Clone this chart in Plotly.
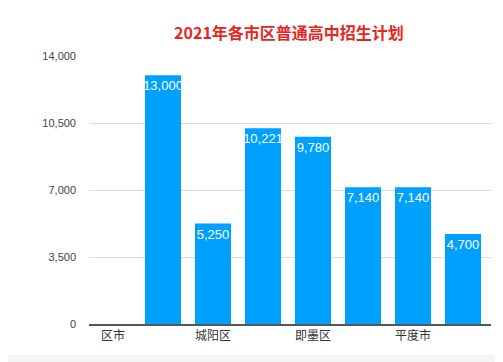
import plotly.graph_objects as go

categories = ["区市", "西海岸新区", "城阳区", "市内三区", "即墨区", "胶州市", "平度市", "莱西市"]
values = [None, 13000, 5250, 10221, 9780, 7140, 7140, 4700]
shown_labels = ["区市", "城阳区", "即墨区", "平度市"]
y_ticks = [0, 3500, 7000, 10500, 14000]
title = "2021年各市区普通高中招生计划"

# page body has an 8px default margin, so the figure is offset by 8px
OFF = 8
W, H = 503 - OFF, 362 - OFF
L, T = 89 - OFF, 56 - OFF
R = W - (491 - OFF)
B = H - (324 - OFF)
pw, ph = W - L - R, H - T - B

fig = go.Figure(go.Bar(
    x=categories, y=values,
    marker=dict(color="#00A0FF", line=dict(width=0)),
    text=[f"{v:,}" if v is not None else "" for v in values],
    textposition="inside", insidetextanchor="end", textangle=0,
    textfont=dict(color="white", size=13, family="Liberation Sans, Arial"),
    constraintext="none", cliponaxis=False,
))

fig.update_layout(
    width=W, height=H,
    margin=dict(l=L, r=R, t=T, b=B),
    paper_bgcolor="#f4f4f4", plot_bgcolor="white",
    bargap=0.28,
    showlegend=False,
    title=dict(text=title, x=(289 - 89) / pw, xref="paper", xanchor="center",
               y=1 - (33 - OFF) / H, yanchor="middle",
               font=dict(color="#e8251c", size=16, family="Noto Sans CJK SC", weight="bold")),
    shapes=[dict(type="rect", xref="paper", yref="paper", layer="below",
                 x0=-L / pw - 0.05, x1=(498 - 89) / pw, y0=(324 - 355) / ph, y1=324 / ph + 0.5,
                 fillcolor="white", line=dict(width=0))],
    font=dict(family="Liberation Sans, Arial", color="#444"),
)
fig.update_xaxes(
    range=[-0.48, 7.56], tickmode="array", tickvals=shown_labels, ticktext=shown_labels,
    showline=True, linecolor="#555", linewidth=1.5, ticks="",
    tickfont=dict(size=12, family="Noto Sans CJK SC", color="#333"),
    showgrid=False,
)
fig.update_yaxes(
    range=[0, 14000], tickvals=y_ticks, ticktext=[f"{v:,}" for v in y_ticks],
    showgrid=True, gridcolor="#dcdcdc", gridwidth=1, zeroline=False,
    tickfont=dict(size=11, color="#444"), ticks="", ticklabelstandoff=12,
)

fig.write_html("out.html")
